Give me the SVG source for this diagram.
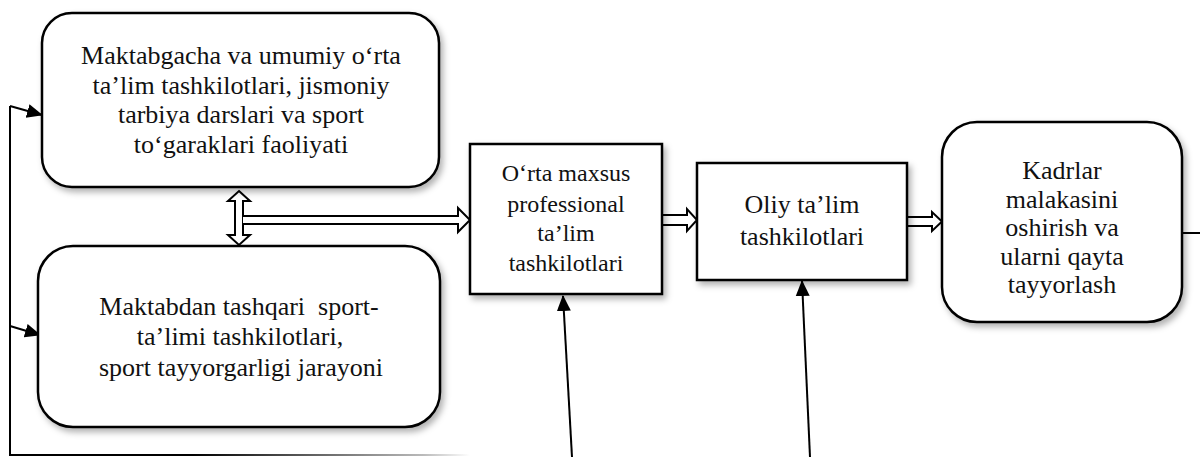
<svg xmlns="http://www.w3.org/2000/svg" width="1200" height="457" viewBox="0 0 1200 457">
<style>
.box{fill:#fff;stroke:#000;stroke-width:2.5;filter:url(#sh)}
.t{fill:#111;text-anchor:middle;font-family:"Liberation Serif","Times New Roman",serif}
.f26{font-size:26px}
.f24{font-size:24px}
.ln{fill:none;stroke:#000;stroke-width:2}
.blk{fill:#fff;stroke:#000;stroke-width:2;stroke-linejoin:miter}
</style>
<defs>
<filter id="sh" x="-10%" y="-10%" width="125%" height="130%">
<feDropShadow dx="3" dy="4" stdDeviation="3" flood-color="#000" flood-opacity="0.3"/>
</filter>
<marker id="ah" markerUnits="userSpaceOnUse" markerWidth="16" markerHeight="16" viewBox="0 0 16 16" refX="15" refY="8" orient="auto">
<path d="M0,1 L16,8 L0,15 Z" fill="#000"/>
</marker>
<linearGradient id="fade" gradientUnits="userSpaceOnUse" x1="8" y1="0" x2="470" y2="0">
<stop offset="0" stop-color="#000"/>
<stop offset="0.4" stop-color="#000"/>
<stop offset="0.9" stop-color="#bbb"/>
<stop offset="1" stop-color="#fff"/>
</linearGradient>
</defs>

<g id="connectors">
<path class="ln" d="M10,455 L10,106"/>
<path fill="none" stroke="url(#fade)" stroke-width="2" d="M9,455 L470,455"/>
<path class="ln" d="M10,106 L42,115" marker-end="url(#ah)"/>
<path class="ln" d="M10,326 L40,335" marker-end="url(#ah)"/>
<path class="ln" d="M572,457 L563,296" marker-end="url(#ah)"/>
<path class="ln" d="M810,457 L802,281" marker-end="url(#ah)"/>
<path class="ln" d="M1182,233 L1200,233"/>
<path class="blk" d="M239,191 L250,201 L243,201 L243,235 L250,235 L239,245 L228,235 L235,235 L235,201 L228,201 Z"/>
<path class="blk" d="M243,216 L458,216 L458,208 L470,220 L458,232 L458,224 L243,224"/>
<path class="blk" d="M661,215 L687,215 L687,209 L697,220 L687,231 L687,225 L661,225 Z"/>
<path class="blk" d="M906,217 L932,217 L932,212 L942,221.5 L932,231 L932,226 L906,226 Z"/>
</g>

<g id="node1">
<rect class="box" x="42" y="13" width="397" height="174" rx="30"/>
<text class="t f26"><tspan x="241" y="64">Maktabgacha va umumiy o‘rta</tspan><tspan x="241" y="94">ta’lim tashkilotlari, jismoniy</tspan><tspan x="241" y="123">tarbiya darslari va sport</tspan><tspan x="241" y="153">to‘garaklari faoliyati</tspan></text>
</g>

<g id="node2">
<rect class="box" x="38" y="246" width="402" height="181" rx="35"/>
<text class="t f26" xml:space="preserve"><tspan x="239" y="315">Maktabdan tashqari  sport-</tspan><tspan x="240" y="345">ta’limi tashkilotlari,</tspan><tspan x="241" y="376">sport tayyorgarligi jarayoni</tspan></text>
</g>

<g id="node3">
<rect class="box" x="470" y="144" width="192" height="150"/>
<text class="t f24"><tspan x="566" y="181">O‘rta maxsus</tspan><tspan x="566" y="212">professional</tspan><tspan x="566" y="241">ta’lim</tspan><tspan x="566" y="271">tashkilotlari</tspan></text>
</g>

<g id="node4">
<rect class="box" x="697" y="163" width="210" height="117"/>
<text class="t f26"><tspan x="802" y="213">Oliy ta’lim</tspan><tspan x="802" y="245">tashkilotlari</tspan></text>
</g>

<g id="node5">
<rect class="box" x="942" y="122" width="240" height="200" rx="35"/>
<text class="t f26"><tspan x="1062" y="179">Kadrlar</tspan><tspan x="1062" y="207.5">malakasini</tspan><tspan x="1062" y="236">oshirish va</tspan><tspan x="1062" y="264.5">ularni qayta</tspan><tspan x="1062" y="293">tayyorlash</tspan></text>
</g>
</svg>
